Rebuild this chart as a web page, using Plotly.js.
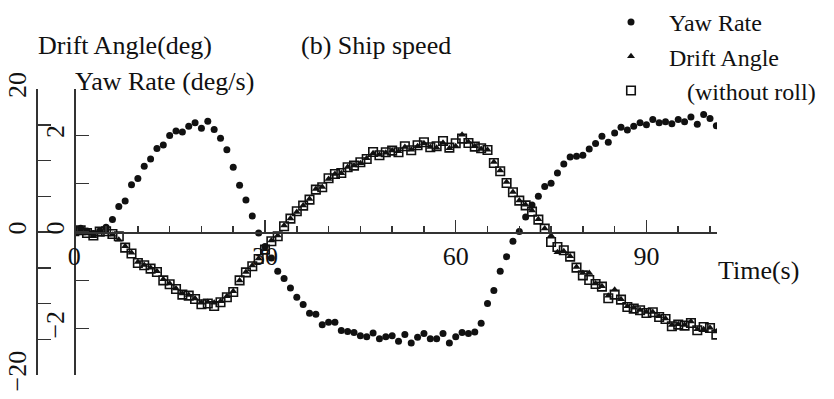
<!DOCTYPE html>
<html>
<head>
<meta charset="utf-8">
<script src="https://cdn.plot.ly/plotly-3.0.1.min.js"></script>
<style>
  html, body { margin: 0; padding: 0; background: #ffffff; }
  #chart { width: 834px; height: 399px; }
</style>
</head>
<body>
<div id="chart"></div>
<script>
// Time samples (s), one per second
const timeS = [
  0, 1, 2, 3, 4, 5, 6, 7, 8, 9,
  10, 11, 12, 13, 14, 15, 16, 17, 18, 19,
  20, 21, 22, 23, 24, 25, 26, 27, 28, 29,
  30, 31, 32, 33, 34, 35, 36, 37, 38, 39,
  40, 41, 42, 43, 44, 45, 46, 47, 48, 49,
  50, 51, 52, 53, 54, 55, 56, 57, 58, 59,
  60, 61, 62, 63, 64, 65, 66, 67, 68, 69,
  70, 71, 72, 73, 74, 75, 76, 77, 78, 79,
  80, 81, 82, 83, 84, 85, 86, 87, 88, 89,
  90, 91, 92, 93, 94, 95, 96, 97, 98, 99,
  100, 101
];

// Yaw rate (deg/s), inner axis
const yawRate = [
  0.02, 0.08, 0.02, -0.03, 0.02, 0.10, 0.26, 0.53, 0.64, 0.98,
  1.11, 1.36, 1.51, 1.73, 1.80, 2.00, 2.09, 2.07, 2.19, 2.26,
  2.15, 2.29, 2.12, 1.94, 1.70, 1.34, 0.97, 0.66, 0.33, -0.02,
  -0.30, -0.54, -0.81, -0.96, -1.16, -1.35, -1.50, -1.68, -1.70, -1.92,
  -1.87, -1.87, -2.04, -2.06, -2.08, -2.15, -2.17, -2.09, -2.21, -2.17,
  -2.15, -2.26, -2.12, -2.30, -2.18, -2.10, -2.21, -2.21, -2.10, -2.30,
  -2.17, -2.08, -2.10, -2.07, -1.89, -1.48, -1.21, -0.81, -0.51, -0.19,
  0.01, 0.31, 0.56, 0.74, 0.94, 1.01, 1.22, 1.41, 1.55, 1.57,
  1.59, 1.72, 1.83, 1.98, 1.86, 2.05, 2.17, 2.11, 2.19, 2.26,
  2.22, 2.33, 2.26, 2.28, 2.24, 2.33, 2.28, 2.38, 2.23, 2.43,
  2.35, 2.20
];

// Drift angle (deg), outer axis
const driftAngle = [
  0.15, 0.20, -0.20, -0.60, 0.00, 0.05, -0.40, -1.07, -2.00, -2.90,
  -4.20, -4.60, -5.00, -5.50, -6.60, -7.20, -7.90, -8.60, -8.80, -9.30,
  -9.90, -9.80, -9.90, -9.70, -9.00, -8.30, -6.80, -5.60, -4.70, -3.70,
  -2.40, -1.20, -0.50, 0.90, 1.90, 2.80, 3.70, 4.60, 6.00, 6.30,
  7.40, 8.10, 8.20, 9.10, 9.30, 9.60, 10.30, 11.00, 10.80, 11.10,
  11.40, 11.30, 11.90, 11.50, 12.00, 12.40, 11.90, 11.80, 12.50, 11.70,
  12.00, 13.60, 12.60, 12.00, 11.60, 11.50, 9.80, 8.60, 7.00, 5.60,
  4.40, 3.80, 3.00, 1.80, 0.50, -0.50, -2.84, -2.70, -3.40, -4.90,
  -5.73, -5.73, -7.20, -7.60, -8.90, -8.06, -9.40, -10.40, -10.60, -10.90,
  -11.20, -11.20, -11.80, -12.10, -13.00, -12.90, -13.00, -12.50, -13.60, -13.60,
  -13.40, -13.90
];

// Drift angle (deg) without roll, outer axis
const driftNoRoll = [
  0.10, 0.24, -0.14, -0.50, 0.05, 0.10, -0.28, -0.60, -2.19, -3.00,
  -4.33, -4.66, -5.12, -5.59, -6.76, -7.31, -7.97, -8.76, -8.90, -9.37,
  -10.10, -10.00, -10.35, -9.83, -9.13, -8.39, -6.76, -5.64, -4.80, -3.77,
  -2.47, -1.30, -0.60, 0.80, 1.87, 2.90, 3.69, 4.53, 5.93, 6.25,
  7.51, 8.11, 8.25, 9.05, 9.29, 9.75, 10.21, 11.19, 10.73, 11.15,
  11.38, 11.15, 11.99, 11.43, 12.13, 12.55, 11.85, 11.99, 12.73, 11.80,
  12.41, 13.06, 12.45, 11.94, 11.71, 11.47, 9.65, 8.49, 6.85, 5.55,
  4.39, 3.73, 2.85, 1.73, 0.47, -1.40, -2.10, -2.56, -3.44, -4.98,
  -6.06, -6.71, -7.27, -7.64, -9.27, -8.76, -9.46, -10.48, -10.71, -10.95,
  -11.33, -11.23, -11.89, -12.17, -13.19, -12.95, -13.10, -12.73, -13.75, -13.29,
  -13.43, -14.35
];

// Axis tick labels
const timeTicks = [0, 30, 60, 90];
const driftTickVals = [-20, -15, -10, -5, 0, 5, 10, 15, 20];
const driftTickText = ['\u221220', '', '', '', '0', '', '', '', '20'];
const yawTickVals = [-2.96, -2, -1, 0, 1, 2, 2.96];
const yawTickText = ['', '\u22122', '', '0', '', '2', ''];

const FONT = 'Liberation Serif, Times New Roman, serif';
const INK = '#111111';
const AXIS = '#333333';
const NB = '\u00a0';

const traces = [
  {
    x: timeS, y: driftNoRoll, yaxis: 'y', type: 'scatter', mode: 'markers',
    name: NB.repeat(6) + '(without roll)', legendrank: 3,
    marker: { symbol: 'square-open', size: 8.5, color: INK, line: { width: 1.6, color: INK } }
  },
  {
    x: timeS, y: driftAngle, yaxis: 'y', type: 'scatter', mode: 'markers',
    name: NB.repeat(3) + 'Drift Angle', legendrank: 2,
    marker: { symbol: 'triangle-up', size: 7, color: INK }
  },
  {
    x: timeS, y: yawRate, yaxis: 'y2', type: 'scatter', mode: 'markers',
    name: NB.repeat(3) + 'Yaw Rate', legendrank: 1,
    marker: { symbol: 'circle', size: 7, color: INK }
  }
];

const L = 36, R = 117, T = 89, B = 24;
const plotW = 834 - L - R;
const plotH = 399 - T - B;
const innerPos = (74.3 - L) / plotW;

const layout = {
  width: 834, height: 399,
  margin: { l: L, r: R, t: T, b: B, pad: 0, autoexpand: false },
  paper_bgcolor: '#ffffff', plot_bgcolor: 'rgba(0,0,0,0)',
  font: { family: FONT, size: 26, color: INK },
  showlegend: true,
  legend: {
    xref: 'container', yref: 'container', x: 611 / 834, y: 1, xanchor: 'left', yanchor: 'top',
    bgcolor: 'rgba(0,0,0,0)', borderwidth: 0, font: { family: FONT, size: 24, color: INK },
    tracegroupgap: 0
  },
  xaxis: {
    domain: [innerPos, 1], range: [0, 101.1], anchor: 'free', position: 0.5,
    showline: true, linecolor: AXIS, linewidth: 1.5, showgrid: false, zeroline: false,
    tickmode: 'array', tickvals: timeTicks, ticks: 'inside', ticklen: 12, tickwidth: 1.5, tickcolor: AXIS,
    minor: { tickmode: 'linear', tick0: 0, dtick: 5, ticks: 'inside', ticklen: 6, tickwidth: 1.5, tickcolor: AXIS, showgrid: false },
    tickfont: { family: FONT, size: 26, color: INK }, ticklabelstandoff: 0
  },
  yaxis: {
    domain: [0, 1], range: [-20, 20], anchor: 'free', position: 0, side: 'left',
    showline: true, linecolor: AXIS, linewidth: 1.5, showgrid: false, zeroline: false,
    tickmode: 'array', tickvals: driftTickVals, ticktext: driftTickText,
    ticks: 'inside', ticklen: 13, tickwidth: 1.5, tickcolor: AXIS, tickangle: -90,
    tickfont: { family: FONT, size: 26, color: INK }
  },
  yaxis2: {
    overlaying: 'y', range: [-2.96, 2.96], anchor: 'free', position: innerPos, side: 'left',
    showline: true, linecolor: AXIS, linewidth: 1.5, showgrid: false, zeroline: false,
    tickmode: 'array', tickvals: yawTickVals, ticktext: yawTickText,
    ticks: 'inside', ticklen: 13, tickwidth: 1.5, tickcolor: AXIS, tickangle: -90,
    tickfont: { family: FONT, size: 26, color: INK }
  },
  annotations: [
    { text: 'Drift Angle(deg)', xref: 'paper', yref: 'paper', x: 0, y: 1 + (89 - 46) / plotH,
      xanchor: 'left', yanchor: 'middle', showarrow: false, font: { family: FONT, size: 26, color: INK } },
    { text: 'Yaw Rate (deg/s)', xref: 'paper', yref: 'paper', x: (73 - L) / plotW, y: 1 + (89 - 81) / plotH,
      xanchor: 'left', yanchor: 'middle', showarrow: false, font: { family: FONT, size: 26, color: INK } },
    { text: '(b) Ship speed', xref: 'paper', yref: 'paper', x: (299 - L) / plotW, y: 1 + (89 - 46) / plotH,
      xanchor: 'left', yanchor: 'middle', showarrow: false, font: { family: FONT, size: 26, color: INK } },
    { text: 'Time(s)', xref: 'paper', yref: 'paper', x: (716 - L) / plotW, y: (375 - 270) / plotH,
      xanchor: 'left', yanchor: 'middle', showarrow: false, font: { family: FONT, size: 26, color: INK } }
  ]
};

Plotly.newPlot('chart', traces, layout, { staticPlot: true, displayModeBar: false });
</script>
</body>
</html>
